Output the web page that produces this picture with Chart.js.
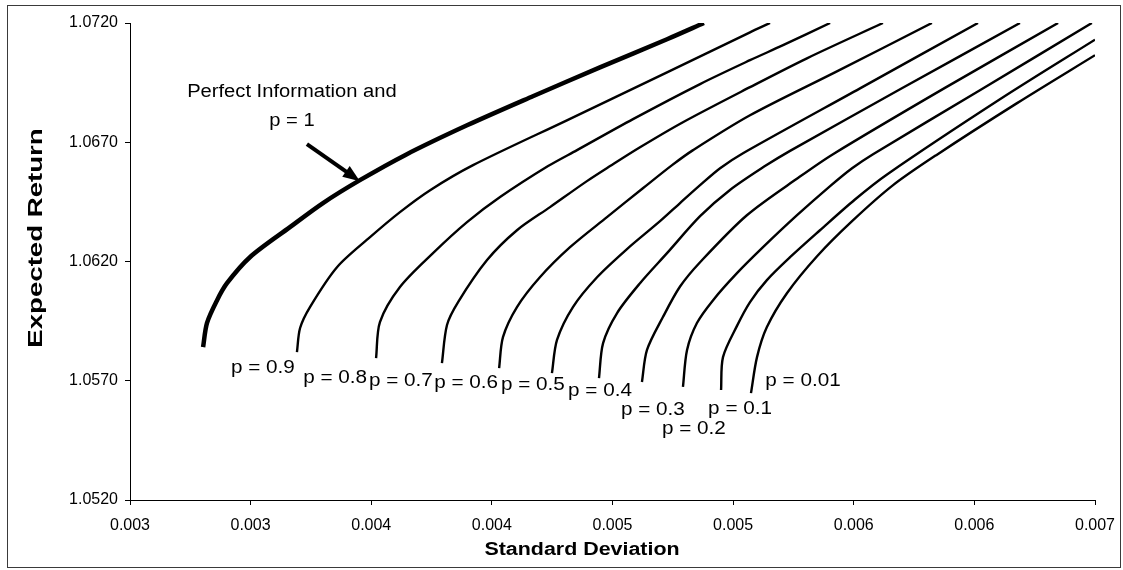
<!DOCTYPE html>
<html>
<head>
<meta charset="utf-8">
<script src="https://cdn.jsdelivr.net/npm/chart.js@4.4.1/dist/chart.umd.min.js"></script>
<style>
  html, body { margin: 0; padding: 0; background: #fff; }
  #wrap { width: 1123px; height: 570px; position: relative; }
</style>
</head>
<body>
<div id="wrap"><canvas id="chart"></canvas></div>
<script>
// axis ticks
const sdTicks = [0.003, 0.0035, 0.004, 0.0045, 0.005, 0.0055, 0.006, 0.0065, 0.007];
const sdTickLabels = ['0.003', '0.003', '0.004', '0.004', '0.005', '0.005', '0.006', '0.006', '0.007'];
const returnTicks = [1.052, 1.057, 1.062, 1.067, 1.072];
const returnTickLabels = ['1.0520', '1.0570', '1.0620', '1.0670', '1.0720'];

// frontier curves (std dev / expected return)
const seriesLabels = ['p = 1', 'p = 0.9', 'p = 0.8', 'p = 0.7', 'p = 0.6', 'p = 0.5', 'p = 0.4', 'p = 0.3', 'p = 0.2', 'p = 0.1', 'p = 0.01'];

const sd_p100 = [0.003303, 0.003319, 0.003361, 0.003402, 0.003497, 0.003663, 0.003800, 0.003953, 0.004140, 0.004397, 0.004670, 0.004948, 0.005226, 0.005379];
const ret_p100 = [1.05841, 1.05942, 1.06038, 1.06109, 1.06218, 1.06344, 1.06445, 1.06541, 1.06646, 1.06771, 1.06893, 1.07014, 1.07132, 1.07200];

const sd_p90 = [0.003692, 0.003705, 0.003746, 0.003858, 0.003995, 0.004119, 0.004244, 0.004422, 0.004811, 0.005226, 0.005570, 0.005653];
const ret_p90 = [1.05820, 1.05921, 1.06009, 1.06176, 1.06302, 1.06407, 1.06499, 1.06604, 1.06792, 1.06993, 1.07161, 1.07200];

const sd_p80 = [0.004020, 0.004036, 0.004119, 0.004256, 0.004397, 0.004534, 0.004733, 0.004853, 0.005085, 0.005363, 0.005570, 0.005707, 0.005902];
const ret_p80 = [1.05795, 1.05946, 1.06093, 1.06235, 1.06365, 1.06470, 1.06600, 1.06667, 1.06797, 1.06944, 1.07044, 1.07107, 1.07200];

const sd_p70 = [0.004293, 0.004314, 0.004360, 0.004480, 0.004604, 0.004741, 0.004894, 0.004990, 0.005114, 0.005292, 0.005570, 0.005806, 0.006121];
const ret_p70 = [1.05774, 1.05934, 1.06030, 1.06206, 1.06331, 1.06428, 1.06537, 1.06600, 1.06679, 1.06784, 1.06931, 1.07052, 1.07200];

const sd_p60 = [0.004530, 0.004546, 0.004604, 0.004699, 0.004824, 0.004977, 0.005126, 0.005247, 0.005334, 0.005570, 0.005922, 0.006324];
const ret_p60 = [1.05753, 1.05883, 1.06009, 1.06134, 1.06260, 1.06386, 1.06507, 1.06604, 1.06667, 1.06813, 1.06993, 1.07200];

const sd_p50 = [0.004749, 0.004770, 0.004836, 0.004936, 0.005060, 0.005197, 0.005280, 0.005363, 0.005446, 0.005541, 0.006026, 0.006515];
const ret_p50 = [1.05732, 1.05871, 1.06009, 1.06134, 1.06252, 1.06369, 1.06445, 1.06520, 1.06591, 1.06654, 1.06926, 1.07200];

const sd_p40 = [0.004944, 0.004961, 0.005019, 0.005114, 0.005226, 0.005363, 0.005487, 0.005632, 0.005736, 0.006192, 0.006689];
const ret_p40 = [1.05711, 1.05858, 1.05984, 1.06109, 1.06235, 1.06390, 1.06500, 1.06600, 1.06664, 1.06922, 1.07200];

const sd_p30 = [0.005122, 0.005143, 0.005209, 0.005280, 0.005363, 0.005557, 0.005777, 0.005914, 0.006378, 0.006847];
const ret_p30 = [1.05695, 1.05829, 1.05967, 1.06095, 1.06197, 1.06394, 1.06556, 1.06650, 1.06928, 1.07200];

const sd_p20 = [0.005292, 0.005309, 0.005350, 0.005417, 0.005516, 0.005624, 0.005765, 0.005902, 0.005993, 0.006080, 0.006523, 0.006987];
const ret_p20 = [1.05674, 1.05829, 1.05942, 1.06038, 1.06151, 1.06260, 1.06394, 1.06516, 1.06591, 1.06650, 1.06918, 1.07200];

const sd_p10 = [0.005450, 0.005458, 0.005516, 0.005570, 0.005640, 0.005736, 0.005860, 0.006005, 0.006138, 0.006606, 0.007000];
const ret_p10 = [1.05661, 1.05799, 1.05930, 1.06030, 1.06122, 1.06218, 1.06331, 1.06460, 1.06565, 1.06880, 1.07130];

const sd_p01 = [0.005574, 0.005599, 0.005640, 0.005723, 0.005848, 0.005993, 0.006163, 0.006345, 0.006677, 0.007000];
const ret_p01 = [1.05648, 1.05799, 1.05925, 1.06067, 1.06222, 1.06369, 1.06520, 1.06648, 1.06864, 1.07065];

const sdSeries = [sd_p100, sd_p90, sd_p80, sd_p70, sd_p60, sd_p50, sd_p40, sd_p30, sd_p20, sd_p10, sd_p01];
const retSeries = [ret_p100, ret_p90, ret_p80, ret_p70, ret_p60, ret_p50, ret_p40, ret_p30, ret_p20, ret_p10, ret_p01];

// label placement: pixel offset from the lower end of each curve
const labelOffsets = [null, [-34, 16], [-41, 20], [-41, 18], [-33, 15], [-19, 12], [1, 13], [11, 28], [11, 42], [19, 19], [52, -12]];

const FONT = '"Liberation Sans", Arial, sans-serif';

const stretchText = (ctx, text, x, y, font, sx, rot = 0) => {
  ctx.save();
  ctx.translate(x, y);
  if (rot) ctx.rotate(rot);
  ctx.scale(sx, 1);
  ctx.font = font;
  ctx.textAlign = 'center';
  ctx.textBaseline = 'middle';
  ctx.fillText(text, 0, 0);
  ctx.restore();
};

const annotate = {
  id: 'annotate',
  afterDraw(chart) {
    const { ctx, scales: { x, y } } = chart;
    ctx.save();

    // frame round the whole chart
    ctx.strokeStyle = '#3a3a3a';
    ctx.lineWidth = 1;
    ctx.strokeRect(7.5, 5.5, 1113, 562);

    ctx.fillStyle = '#000';

    // curve labels
    chart.data.datasets.forEach((ds, i) => {
      const off = labelOffsets[i];
      if (!off) return;
      const px = x.getPixelForValue(ds.data[0].x);
      const py = y.getPixelForValue(ds.data[0].y);
      stretchText(ctx, ds.label, px + off[0], py + off[1], `18px ${FONT}`, 1.15);
    });

    // arrow + text for the p = 1 curve
    const first = chart.data.datasets[0].data[7];
    const tipX = x.getPixelForValue(first.x);
    const tipY = y.getPixelForValue(first.y) + 1;
    const tailX = tipX - 53;
    const tailY = tipY - 37;
    const len = Math.hypot(tipX - tailX, tipY - tailY);
    const ux = (tipX - tailX) / len;
    const uy = (tipY - tailY) / len;
    const head = 17;
    const half = 6.5;
    const bx = tipX - ux * head;
    const by = tipY - uy * head;
    ctx.strokeStyle = '#000';
    ctx.lineWidth = 4;
    ctx.beginPath();
    ctx.moveTo(tailX, tailY);
    ctx.lineTo(bx + ux * 2, by + uy * 2);
    ctx.stroke();
    ctx.beginPath();
    ctx.moveTo(tipX, tipY);
    ctx.lineTo(bx - uy * half, by + ux * half);
    ctx.lineTo(bx + uy * half, by - ux * half);
    ctx.closePath();
    ctx.fill();

    stretchText(ctx, 'Perfect Information and', tipX - 68, tipY - 89, `18px ${FONT}`, 1.12);
    stretchText(ctx, 'p = 1', tipX - 68, tipY - 60, `18px ${FONT}`, 1.12);

    // axis titles
    const area = chart.chartArea;
    stretchText(ctx, 'Standard Deviation', 582, area.bottom + 50, `bold 18px ${FONT}`, 1.19);
    stretchText(ctx, 'Expected Return', 36, 238, `bold 20px ${FONT}`, 1.38, -Math.PI / 2);

    ctx.restore();
  }
};

const datasets = seriesLabels.map((label, i) => ({
  label,
  data: sdSeries[i].map((sd, k) => ({ x: sd, y: retSeries[i][k] })),
  showLine: true,
  borderColor: '#000',
  backgroundColor: '#000',
  borderWidth: i === 0 ? 4.5 : 2.4,
  pointRadius: 0,
  tension: 0.3,
  fill: false,
}));

new Chart(document.getElementById('chart'), {
  type: 'scatter',
  data: { datasets },
  options: {
    responsive: true,
    maintainAspectRatio: false,
    animation: false,
    layout: { padding: { left: 0, top: 23, right: 28, bottom: 0 } },
    plugins: {
      legend: { display: false },
      tooltip: { enabled: false },
    },
    scales: {
      x: {
        type: 'linear',
        min: 0.003,
        max: 0.007,
        afterBuildTicks: (scale) => { scale.ticks = sdTicks.map((v) => ({ value: v })); },
        afterFit: (scale) => {
          scale.height = 70;
          scale.paddingLeft = 0;
          scale.paddingRight = 0;
        },
        grid: { drawOnChartArea: false, drawTicks: true, tickLength: 5, color: '#000' },
        border: { display: true, color: '#000', width: 1 },
        ticks: {
          autoSkip: false,
          maxRotation: 0,
          padding: 11,
          color: '#000',
          font: { family: FONT, size: 16 },
          callback: (v, i) => sdTickLabels[i],
        },
      },
      y: {
        type: 'linear',
        min: 1.052,
        max: 1.072,
        afterBuildTicks: (scale) => { scale.ticks = returnTicks.map((v) => ({ value: v })); },
        afterFit: (scale) => {
          scale.width = 130;
          scale.paddingTop = 0;
          scale.paddingBottom = 0;
        },
        grid: { drawOnChartArea: false, drawTicks: true, tickLength: 5, color: '#000' },
        border: { display: true, color: '#000', width: 1 },
        ticks: {
          autoSkip: false,
          padding: 7,
          color: '#000',
          font: { family: FONT, size: 16 },
          callback: (v, i) => returnTickLabels[i],
        },
      },
    },
  },
  plugins: [annotate],
});
</script>
</body>
</html>
